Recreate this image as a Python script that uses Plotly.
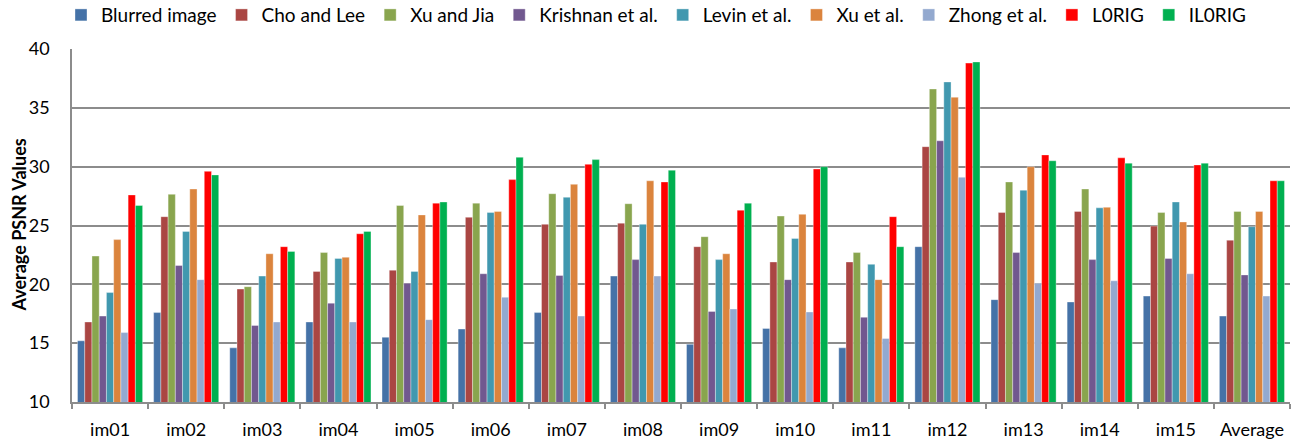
import plotly.graph_objects as go

categories = ["im01", "im02", "im03", "im04", "im05", "im06", "im07", "im08",
              "im09", "im10", "im11", "im12", "im13", "im14", "im15", "Average"]

blurred = [15.2, 17.6, 14.6, 16.8, 15.5, 16.2, 17.6, 20.7, 14.9, 16.25, 14.6, 23.2, 18.7, 18.5, 19.0, 17.3]
cho_lee = [16.8, 25.75, 19.6, 21.1, 21.2, 25.7, 25.1, 25.2, 23.2, 21.9, 21.9, 31.7, 26.1, 26.2, 24.95, 23.75]
xu_jia = [22.4, 27.65, 19.8, 22.7, 26.7, 26.9, 27.7, 26.85, 24.05, 25.8, 22.7, 36.6, 28.7, 28.1, 26.1, 26.2]
krishnan = [17.3, 21.6, 16.5, 18.4, 20.1, 20.9, 20.75, 22.1, 17.7, 20.4, 17.2, 32.2, 22.7, 22.1, 22.2, 20.8]
levin = [19.3, 24.5, 20.7, 22.2, 21.1, 26.1, 27.4, 25.1, 22.1, 23.9, 21.7, 37.2, 28.0, 26.5, 27.0, 24.9]
xu_etal = [23.8, 28.1, 22.6, 22.3, 25.9, 26.2, 28.5, 28.8, 22.6, 25.95, 20.4, 35.9, 30.0, 26.55, 25.3, 26.2]
zhong = [15.9, 20.4, 16.8, 16.8, 17.0, 18.9, 17.3, 20.7, 17.9, 17.65, 15.4, 29.1, 20.1, 20.3, 20.9, 19.0]
l0rig = [27.6, 29.6, 23.2, 24.3, 26.9, 28.9, 30.2, 28.7, 26.3, 29.8, 25.75, 38.8, 31.0, 30.75, 30.15, 28.8]
il0rig = [26.7, 29.3, 22.8, 24.5, 27.0, 30.8, 30.6, 29.7, 26.9, 30.0, 23.2, 38.9, 30.5, 30.3, 30.3, 28.8]

series_names = ["Blurred image", "Cho and Lee", "Xu and Jia", "Krishnan et al.",
                "Levin et al.", "Xu et al.", "Zhong et al.", "L0RIG", "IL0RIG"]
series_values = [blurred, cho_lee, xu_jia, krishnan, levin, xu_etal, zhong, l0rig, il0rig]
series_colors = ["#4572A7", "#AA4643", "#89A54E", "#71588F", "#4198AF",
                 "#DB843D", "#93A9CF", "#FF0000", "#00B050"]

y_ticks = [10, 15, 20, 25, 30, 35, 40]
y_title = "Average PSNR Values"

FONT = "Lato, 'Open Sans', sans-serif"

fig = go.Figure()
for name, vals, col in zip(series_names, series_values, series_colors):
    fig.add_trace(go.Bar(
        x=categories, y=vals, name=name,
        marker=dict(color=col, line=dict(color="rgba(255,255,255,0.7)", width=0.5)),
    ))

fig.update_layout(
    width=1299, height=441,
    barmode="group", bargap=0.145, bargroupgap=0,
    plot_bgcolor="white", paper_bgcolor="white",
    margin=dict(l=72, r=9, t=49, b=39, autoexpand=False),
    font=dict(family=FONT, size=16, color="#000000"),
    legend=dict(orientation="h", xref="container", yref="paper",
                x=61 / 1299, xanchor="left", y=1.15, yanchor="top",
                font=dict(family=FONT, size=19), itemwidth=30,
                traceorder="normal", bgcolor="rgba(0,0,0,0)"),
    showlegend=True,
    annotations=[dict(text="<b>" + y_title + "</b>", textangle=-90,
                      xref="paper", yref="paper", x=-54 / 1218, y=0.5,
                      xanchor="center", yanchor="middle", showarrow=False,
                      font=dict(family=FONT, size=18, color="#000000"))],
)
fig.update_yaxes(
    range=[10, 40], tickvals=y_ticks, showgrid=True, gridcolor="#8C8C8C", gridwidth=1.5,
    showline=True, linecolor="#8C8C8C", linewidth=1.5, zeroline=False,
    ticks="", ticklabelstandoff=17, tickfont=dict(family=FONT, size=18),
)
fig.update_xaxes(
    showline=True, linecolor="#8C8C8C", linewidth=1.5,
    ticks="outside", tickson="boundaries", ticklen=5, tickcolor="#8C8C8C", tickwidth=1.5,
    ticklabelstandoff=11, tickfont=dict(family=FONT, size=18),
)

fig.write_html("out.html", post_script="document.body.style.margin='0';",
               config={"displayModeBar": False})
